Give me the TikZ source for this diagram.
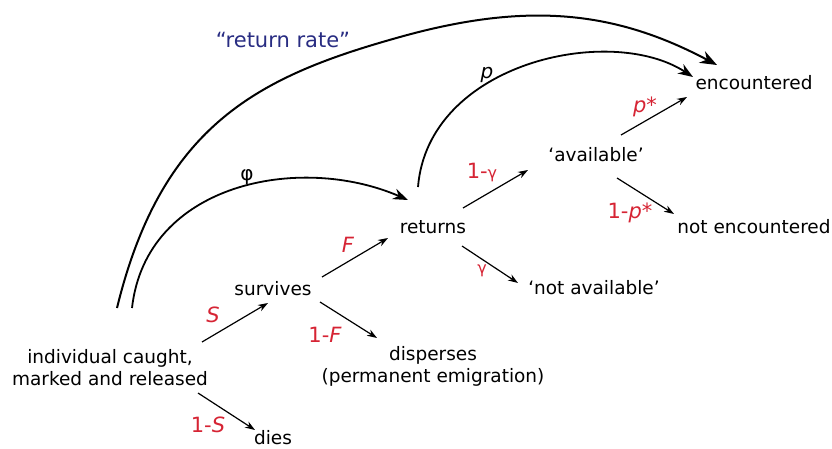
\documentclass[tikz,border=0pt]{standalone}
\usepackage{fontspec}
\setmainfont{DejaVu Sans}
\usetikzlibrary{arrows.meta}
\definecolor{lblred}{RGB}{214,36,52}
\definecolor{navy}{RGB}{40,44,130}
\tikzset{
  txt/.style={inner sep=0pt, font=\fontsize{18.5}{22}\selectfont, align=center},
  lbl/.style={inner sep=0pt, font=\fontsize{21}{24}\selectfont, text=lblred},
  arr/.style={line width=1.2pt, -{Stealth[length=10pt,width=7pt]}},
  arc/.style={line width=1.8pt, -{Stealth[length=15pt,width=11pt]}},
  bigarc/.style={line width=2pt, -{Stealth[length=17pt,width=13pt]}}
}
\newcommand{\smg}{{\fontsize{16}{18}\selectfont γ}}
\begin{document}
\begin{tikzpicture}[x=1pt,y=1pt]
\useasboundingbox (0,0) rectangle (832,448);
% nodes
\node[txt] (ind) at (110,80.5) {individual caught,\\marked and released};
\node[txt, anchor=base] (dies) at (273,4) {dies};
\node[txt] (surv) at (273,159) {survives};
\node[txt] (disp) at (433,82) {disperses\\(permanent emigration)};
\node[txt] (ret) at (433,221) {returns};
\node[txt] (nav) at (594,160) {‘not available’};
\node[txt] (av) at (596,293) {‘available’};
\node[txt] (enc) at (754,365) {encountered};
\node[txt] (nenc) at (754,221) {not encountered};
% endpoints
\coordinate (s0) at (202,106); \coordinate (s1) at (268,145);
\coordinate (ds0) at (198,55); \coordinate (ds1) at (255,18);
\coordinate (f0) at (322,171); \coordinate (f1) at (388,210);
\coordinate (df0) at (320,146); \coordinate (df1) at (377,110);
\coordinate (g0) at (463,240); \coordinate (g1) at (528,278);
\coordinate (ng0) at (462,202); \coordinate (ng1) at (518,165);
\coordinate (p0) at (621,313); \coordinate (p1) at (687,351);
\coordinate (np0) at (617,270); \coordinate (np1) at (674,234);
\coordinate (phi0) at (132,140); \coordinate (phi1) at (408,248);
\coordinate (rr0) at (117,140); \coordinate (rrm) at (400,411); \coordinate (rr1) at (717,383);
\coordinate (pp0) at (418,261); \coordinate (pp1) at (693,371);
% straight arrows
\draw[arr] (s0) -- (s1);
\draw[arr] (ds0) -- (ds1);
\draw[arr] (f0) -- (f1);
\draw[arr] (df0) -- (df1);
\draw[arr] (g0) -- (g1);
\draw[arr] (ng0) -- (ng1);
\draw[arr] (p0) -- (p1);
\draw[arr] (np0) -- (np1);
% arcs
\draw[arc] (phi0) .. controls (146,265) and (300,295) .. (phi1);
\draw[arc] (pp0) .. controls (428,385) and (610,425) .. (pp1);
\draw[bigarc] (rr0) .. controls (162,324.5) and (260,372) .. (rrm)
   .. controls (530,447.4) and (617,436) .. (rr1);
% labels
\node[lbl] (lS) at (213,133) {\itshape S};
\node[lbl] (l1S) at (208,23) {1-\itshape S};
\node[lbl] (lF) at (348,203) {\itshape F};
\node[lbl] (l1F) at (325,113) {1-\itshape F};
\node[lbl] (l1g) at (482,275) {1-\smg};
\node[lbl] (lg) at (482,177) {\smg};
\node[lbl] (lps) at (645,341) {\itshape p*};
\node[lbl] (l1ps) at (630,235) {1-\itshape p*};
\node[txt] (lphi) at (247,271) {\fontsize{20}{22}\selectfont φ};
\node[txt] (lp) at (487,373) {\fontsize{20}{22}\selectfont\itshape p};
\node[txt, text=navy, font=\fontsize{21}{24}\selectfont] (lrr) at (283,408) {“return rate”};
\end{tikzpicture}
\end{document}
